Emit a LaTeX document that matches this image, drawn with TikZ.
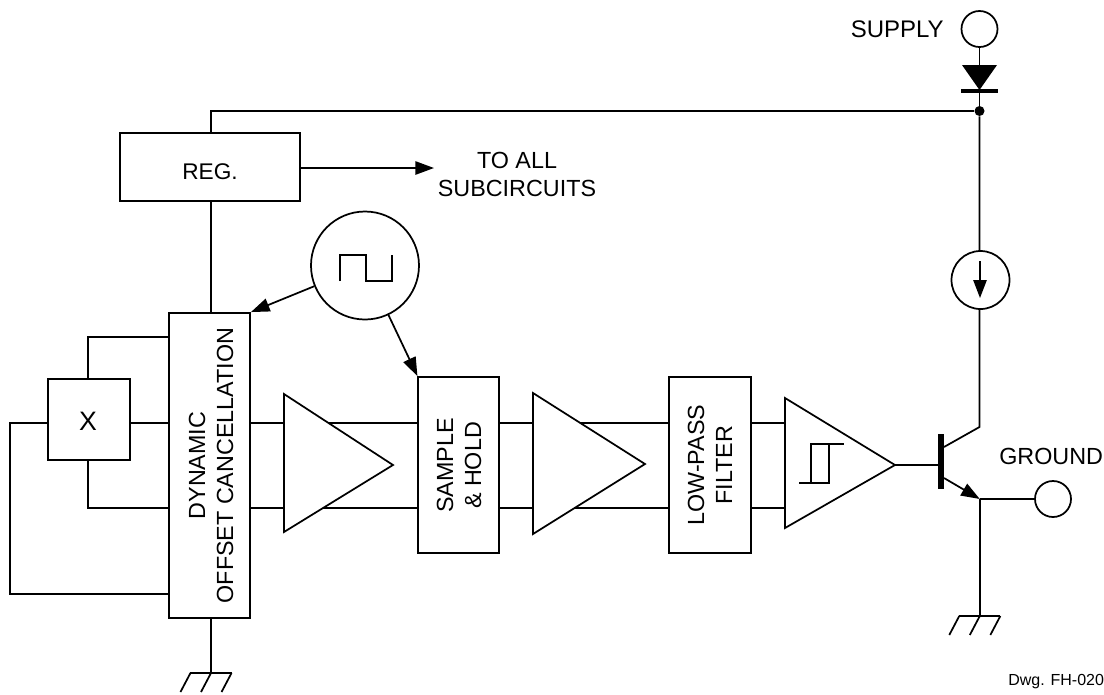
\documentclass[tikz,border=0pt]{standalone}
\usepackage{fontspec}
\setmainfont{Liberation Sans}
\usetikzlibrary{arrows.meta}
\tikzset{
    wire/.style={line width=1.3pt},
    sigarrow/.style={wire,-{Triangle[length=14pt,width=10pt]}},
    block/.style={draw,line width=1.4pt,fill=white,inner sep=0pt},
    amp/.style={line width=1.3pt,fill=white},
    term/.style={circle,draw,line width=1.3pt,fill=white,inner sep=0pt},
    lbl/.style={font=\fontsize{17.5pt}{21pt}\selectfont,align=center,inner sep=0pt},
    joint/.style={circle,fill=black,inner sep=0pt,minimum size=7.5pt}
}
\newcommand{\gndmark}[1]{
    \draw[wire] ([xshift=-15.4pt]#1) -- ([xshift=15.4pt]#1);
    \foreach \dx in {-15.4,0,15.4}
        \draw[wire] ([xshift=\dx pt]#1) -- ([xshift=\dx pt-7.5pt,yshift=-14.25pt]#1);
}
\begin{document}
\begin{tikzpicture}[x=0.75pt,y=-0.75pt]
    \useasboundingbox (0,0) rectangle (1104,694);
    \coordinate (sigtop) at (0,423);
    \coordinate (sigbot) at (0,508);

    % blocks
    \node[block,minimum width=60.75pt,minimum height=228.75pt] (doc) at (209.5,465.5) {};
    \node[block,minimum width=61.5pt,minimum height=60.75pt] (xbox) at (89,419.5) {};
    \node[block,minimum width=134.6pt,minimum height=50.8pt] (reg) at (210,167) {};
    \node[block,minimum width=60.5pt,minimum height=132pt] (shold) at (458.7,465) {};
    \node[block,minimum width=61.5pt,minimum height=132pt] (lpf) at (710,465) {};
    \node[lbl,font=\fontsize{20pt}{24pt}\selectfont] at (88,421) {X};
    \node[lbl,font=\fontsize{17pt}{21pt}\selectfont] at (210,172) {REG.};
    \node[lbl,rotate=90] at (211,465.5) {DYNAMIC\\OFFSET CANCELLATION};
    \node[lbl,rotate=90] at (459,465.5) {SAMPLE\\\& HOLD};
    \node[lbl,rotate=90] at (710,465) {LOW-PASS\\FILTER};

    % signal path
    \foreach \ypos in {sigtop,sigbot} {
        \draw[wire] (doc.east |- \ypos) -- (shold.west |- \ypos);
        \draw[wire] (shold.east |- \ypos) -- (lpf.west |- \ypos);
        \draw[wire] (lpf.east |- \ypos) -- (785,0 |- \ypos);
    }
    \draw[wire] (xbox.east |- sigtop) -- (doc.west |- sigtop);
    \draw[wire] (88,379) -- (88,337) -- (doc.west |- 0,337);
    \draw[wire] (88,460) -- (88,508) -- (doc.west |- sigbot);
    \draw[wire] (xbox.west |- sigtop) -- (10,423) -- (10,594) -- (doc.west |- 0,594);

    % amplifiers
    \draw[amp] (284,394) -- (393,465) -- (284,532) -- cycle;
    \draw[amp] (533,393) -- (645,464) -- (533,534) -- cycle;
    \draw[amp] (785,398) -- (895,465) coordinate (ampout) -- (785,528) -- cycle;
    \draw[wire] (799,483) -- (829,483) -- (829,444);
    \draw[wire] (811,483) -- (811,444) -- (844,444);

    % clock
    \node[term,minimum size=81pt] (clock) at (365,265.5) {};
    \draw[wire] (340,281) -- (340,255) -- (366,255) -- (366,281) -- (392,281) -- (392,255);
    \draw[sigarrow] (clock) -- (doc.north east);
    \draw[sigarrow] (clock) -- (shold.north west);

    % supply side
    \node[term,minimum size=27pt] (supply) at (979.5,29) {};
    \node[lbl,font=\fontsize{18pt}{21pt}\selectfont,anchor=east] at (944,29) {SUPPLY};
    \node[joint] (tap) at (979.5,111) {};
    \draw[wire] (supply) -- (tap);
    \fill (962,65) -- (997,65) -- (979.5,90) -- cycle;
    \draw[line width=2.5pt] (961,91) -- (997.5,91);
    \draw[wire] (tap) -- (211,111) -- (211,133);
    \draw[wire] (211,200) -- (211,313);
    \coordinate (regout) at (434,168);
    \draw[sigarrow] (reg.east |- regout) -- (regout);
    \node[lbl] at (517,174) {TO ALL\\SUBCIRCUITS};

    % current source
    \draw[wire] (tap) -- (979.5,427) coordinate (coll) -- (944,447);
    \node[term,minimum size=43.5pt] (isrc) at (980.5,280) {};
    \coordinate (itop) at (980,261);
    \coordinate (ibot) at (980,298);
    \draw[wire,-{Triangle[length=13.5pt,width=10pt]}] (itop) -- (ibot);

    % transistor
    \draw[wire] (ampout) -- (941,465);
    \draw[line width=4.5pt] (941,434) -- (941,489);
    \coordinate (emit) at (979.8,499);
    \draw[sigarrow] (944,478) -- (emit);
    \node[term,minimum size=27pt] (gnd) at (1053,499) {};
    \node[lbl,anchor=west] at (999,456) {GROUND};
    \draw[wire] (emit) -- (gnd);

    % grounds
    \coordinate (gnda) at (979.8,616);
    \coordinate (gndb) at (211,673);
    \draw[wire] (emit) -- (gnda);
    \draw[wire] (gndb |- doc.south) -- (gndb);
    \gndmark{gnda}
    \gndmark{gndb}

    \node[font=\fontsize{12pt}{15pt}\selectfont,anchor=west,inner sep=0pt] at (1008,682) {Dwg. FH-020};
\end{tikzpicture}
\end{document}
